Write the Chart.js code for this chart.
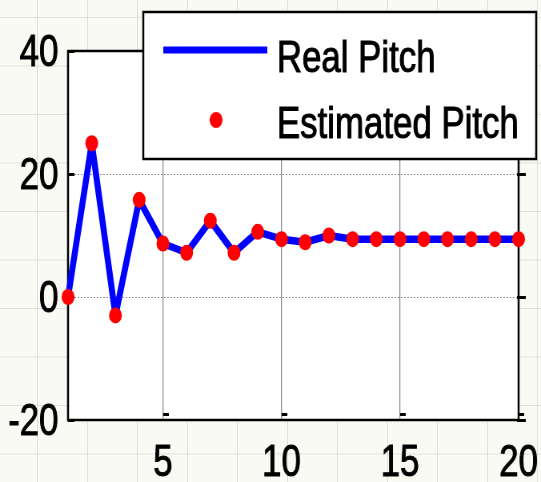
<!DOCTYPE html>
<html>
<head>
<meta charset="utf-8">
<script src="https://cdn.jsdelivr.net/npm/chart.js@4/dist/chart.umd.min.js"></script>
<style>
  html, body { margin: 0; padding: 0; }
  body {
    width: 541px; height: 482px; overflow: hidden;
    background-color: #fafaf4;
    background-image:
      linear-gradient(to right, rgba(196, 196, 186, 0.45) 1px, transparent 1px),
      linear-gradient(to bottom, rgba(196, 196, 186, 0.45) 1px, transparent 1px);
    background-size: 50px 48.5px;
    background-position: 37px 17px;
  }
  /* the drawing surface is wider than its box, giving condensed type and tall dots */
  canvas { display: block; width: 541px; height: 482px; }
</style>
</head>
<body>
<canvas id="pitch" width="676" height="482" style="width:541px;height:482px"></canvas>
<script>
// Time steps and pitch values (degrees)
const steps = [1, 2, 3, 4, 5, 6, 7, 8, 9, 10, 11, 12, 13, 14, 15, 16, 17, 18, 19, 20];
const realPitch = [0, 25, -3, 15.8, 8.7, 7.2, 12.4, 7.2, 10.6, 9.4, 8.9, 10, 9.4, 9.4, 9.4, 9.4, 9.4, 9.4, 9.4, 9.4];
const estimatedPitch = [0, 25, -3, 15.8, 8.7, 7.2, 12.4, 7.2, 10.6, 9.4, 8.9, 10, 9.4, 9.4, 9.4, 9.4, 9.4, 9.4, 9.4, 9.4];
const xTickValues = [5, 10, 15, 20];
const yTickValues = [-20, 0, 20, 40];
const seriesNames = ['Real Pitch', 'Estimated Pitch'];

const FONT = '"Liberation Sans", Arial, sans-serif';
const FONT_SIZE = 43.5;
const BLUE = '#0000ff';
const RED = '#ff0000';

const toPoints = (ys) => steps.map((x, i) => ({ x: x, y: ys[i] }));

const framePlugin = {
  id: 'frame',
  beforeDraw(chart) {
    const { ctx, chartArea: a } = chart;
    ctx.save();
    ctx.fillStyle = '#ffffff';
    ctx.fillRect(a.left, a.top, a.right - a.left, a.bottom - a.top);
    ctx.restore();
  },
  beforeDatasetsDraw(chart) {
    const { ctx, chartArea: a, scales: { x, y } } = chart;
    ctx.save();
    // dotted horizontal grid
    ctx.strokeStyle = '#8a8a8a';
    ctx.lineWidth = 1;
    ctx.setLineDash([2, 2]);
    yTickValues.forEach(v => {
      if (v === -20 || v === 40) return;
      const py = Math.round(y.getPixelForValue(v)) + 0.5;
      ctx.beginPath();
      ctx.moveTo(a.left, py);
      ctx.lineTo(a.right, py);
      ctx.stroke();
    });
    ctx.setLineDash([]);
    // axes box
    ctx.strokeStyle = '#000000';
    ctx.lineWidth = 2.5;
    ctx.strokeRect(a.left, a.top, a.right - a.left, a.bottom - a.top);
    // inward tick marks
    ctx.fillStyle = '#000000';
    yTickValues.forEach(v => {
      const py = Math.round(y.getPixelForValue(v));
      ctx.fillRect(a.left, py - 1, 8, 3);
      ctx.fillRect(a.right - 2, py - 1, 11, 3);
    });
    xTickValues.forEach(v => {
      const px = Math.round(x.getPixelForValue(v));
      ctx.fillRect(px, a.bottom - 7, 7, 3);
    });
    ctx.restore();
  },
  afterDraw(chart) {
    const { ctx } = chart;
    const ds = chart.data.datasets;
    ctx.save();
    // legend box
    const bx = 179, by = 12, bw = 491, bh = 147;
    ctx.fillStyle = '#ffffff';
    ctx.fillRect(bx, by, bw, bh);
    ctx.strokeStyle = '#000000';
    ctx.lineWidth = 2.5;
    ctx.strokeRect(bx, by, bw, bh);
    // line sample
    ctx.strokeStyle = ds[0].borderColor;
    ctx.lineWidth = 7;
    ctx.beginPath();
    ctx.moveTo(204, 50);
    ctx.lineTo(334, 50);
    ctx.stroke();
    // dot sample
    ctx.fillStyle = ds[1].backgroundColor;
    ctx.beginPath();
    ctx.arc(270, 120, ds[1].pointRadius, 0, Math.PI * 2);
    ctx.fill();
    // labels
    ctx.fillStyle = '#000000';
    ctx.strokeStyle = '#000000';
    ctx.lineWidth = 1;
    ctx.font = FONT_SIZE + 'px ' + FONT;
    ctx.textBaseline = 'alphabetic';
    ctx.textAlign = 'left';
    [[ds[0].label, 72], [ds[1].label, 138]].forEach(([t, by0]) => {
      ctx.fillText(t, 346, by0);
      ctx.strokeText(t, 346, by0);
    });
    ctx.restore();
  }
};

const tickFont = { family: FONT, size: FONT_SIZE };

new Chart(document.getElementById('pitch'), {
  type: 'line',
  data: {
    datasets: [
      {
        label: seriesNames[0],
        data: toPoints(realPitch),
        borderColor: BLUE,
        backgroundColor: BLUE,
        borderWidth: 7.5,
        borderJoinStyle: 'round',
        borderCapStyle: 'round',
        pointRadius: 0,
        tension: 0,
        fill: false,
        clip: false,
        order: 2
      },
      {
        label: seriesNames[1],
        data: toPoints(estimatedPitch),
        showLine: false,
        pointStyle: 'circle',
        pointRadius: 8,
        pointBorderWidth: 0,
        backgroundColor: RED,
        borderColor: RED,
        clip: false,
        order: 1
      }
    ]
  },
  options: {
    responsive: false,
    devicePixelRatio: 1,
    animation: false,
    events: [],
    layout: { padding: { top: 51, right: 28, left: 0, bottom: 0 } },
    plugins: { legend: { display: false }, tooltip: { enabled: false } },
    scales: {
      x: {
        type: 'linear',
        min: 1,
        max: 20,
        afterBuildTicks: (s) => { s.ticks = xTickValues.map(v => ({ value: v })); },
        afterFit: (s) => { s.height = 62; s.paddingLeft = 0; s.paddingRight = 0; },
        border: { display: false },
        grid: {
          drawTicks: false,
          lineWidth: 1.25,
          color: (c) => (c.tick && c.tick.value === 20) ? 'rgba(0,0,0,0)' : '#8c8c8c'
        },
        ticks: {
          font: tickFont,
          color: '#000000',
          textStrokeColor: '#000000',
          textStrokeWidth: 1,
          padding: 18,
          maxRotation: 0,
          autoSkip: false
        }
      },
      y: {
        type: 'linear',
        min: -20,
        max: 40,
        afterBuildTicks: (s) => { s.ticks = yTickValues.map(v => ({ value: v })); },
        afterFit: (s) => { s.width = 85; s.paddingTop = 0; s.paddingBottom = 0; },
        border: { display: false },
        grid: { display: false, drawTicks: false },
        ticks: {
          font: tickFont,
          color: '#000000',
          textStrokeColor: '#000000',
          textStrokeWidth: 1,
          padding: 12,
          labelOffset: 3,
          autoSkip: false
        }
      }
    }
  },
  plugins: [framePlugin]
});
</script>
</body>
</html>
